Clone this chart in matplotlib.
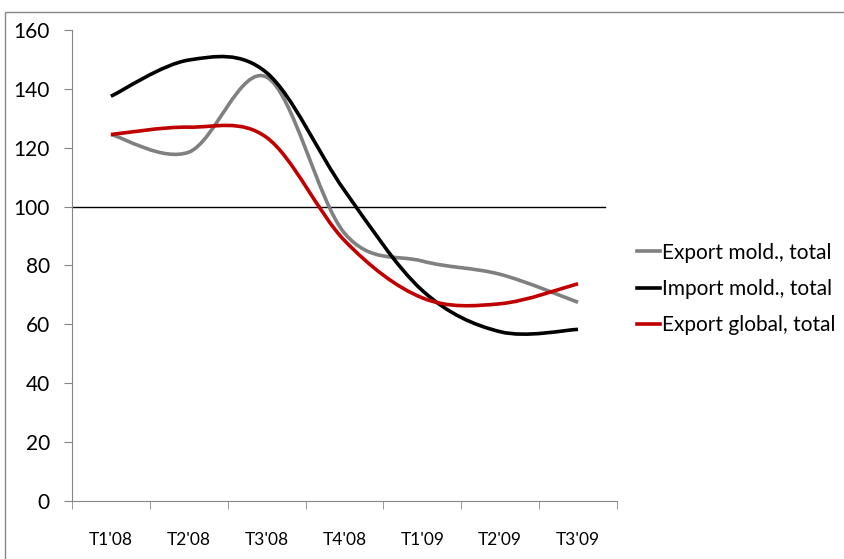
import matplotlib.pyplot as plt
import numpy as np
from matplotlib.path import Path
from matplotlib.patches import PathPatch, Rectangle
from matplotlib.lines import Line2D

# Trimestre
trimestre = ["T1'08", "T2'08", "T3'08", "T4'08", "T1'09", "T2'09", "T3'09"]

# Indici
export_mold = [124.5, 118.5, 144.0, 91.0, 81.5, 77.0, 67.5]
import_mold = [137.5, 149.8, 145.5, 105.5, 71.5, 57.5, 58.3]
export_global = [124.5, 127.0, 123.5, 88.5, 69.0, 67.0, 73.8]

serii = [
    ('Export mold., total', export_mold, '#808080'),
    ('Import mold., total', import_mold, '#000000'),
    ('Export global, total', export_global, '#c00000'),
]


def curba_neteda(x, y):
    # bezier tip Excel (Catmull-Rom)
    p = np.column_stack([x, y]).astype(float)
    n = len(p)
    verts = [p[0]]
    codes = [Path.MOVETO]
    for i in range(n - 1):
        p0 = p[i - 1] if i > 0 else p[i]
        p3 = p[i + 2] if i + 2 < n else p[i + 1]
        c1 = p[i] + (p[i + 1] - p0) / 6
        c2 = p[i + 1] - (p3 - p[i]) / 6
        verts += [c1, c2, p[i + 1]]
        codes += [Path.CURVE4] * 3
    return Path(verts, codes)


plt.rcParams['font.family'] = ['Lato', 'DejaVu Sans']

fig = plt.figure(figsize=(8.44, 5.59), dpi=100)
ax = fig.add_axes([0.0853, 0.1038, 0.6457, 0.8425])

x = np.arange(len(trimestre))
handles = []
for nume, val, col in serii:
    ax.add_patch(PathPatch(curba_neteda(x, val), fill=False, edgecolor=col,
                           lw=2.6, capstyle='butt', zorder=3))
    handles.append(Line2D([], [], color=col, lw=2.6, label=nume))

# linia de referinta 100
ax.plot([-0.5, 6.35], [100, 100], color='black', lw=1, zorder=2)

ax.set_xlim(-0.5, 6.5)
ax.set_ylim(0, 160)
ax.set_yticks(range(0, 161, 20))
ax.set_xticks(x)
ax.set_xticklabels(trimestre)
ax.set_xticks(np.arange(-0.5, 7, 1), minor=True)
ax.tick_params(axis='x', which='major', length=0, pad=22, labelsize=12.5)
ax.tick_params(axis='x', which='minor', length=6, color='#868686', direction='out')
ax.tick_params(axis='y', length=6, color='#868686', labelsize=15, pad=10)

for s in ['top', 'right']:
    ax.spines[s].set_visible(False)
for s in ['left', 'bottom']:
    ax.spines[s].set_color('#868686')

leg = fig.legend(handles=handles, loc='upper left', bbox_to_anchor=(0.7547, 0.566),
                 frameon=False, fontsize=15, handlelength=1.1, handletextpad=0.1,
                 labelspacing=0.78, borderaxespad=0, borderpad=0)

# chenarul
fig.patches.append(Rectangle((4.5 / 844, -0.01), 1.0, 1 - 11.5 / 559 + 0.01,
                             transform=fig.transFigure, fill=False,
                             edgecolor='#868686', lw=1))

plt.savefig('out.png', dpi=100)
